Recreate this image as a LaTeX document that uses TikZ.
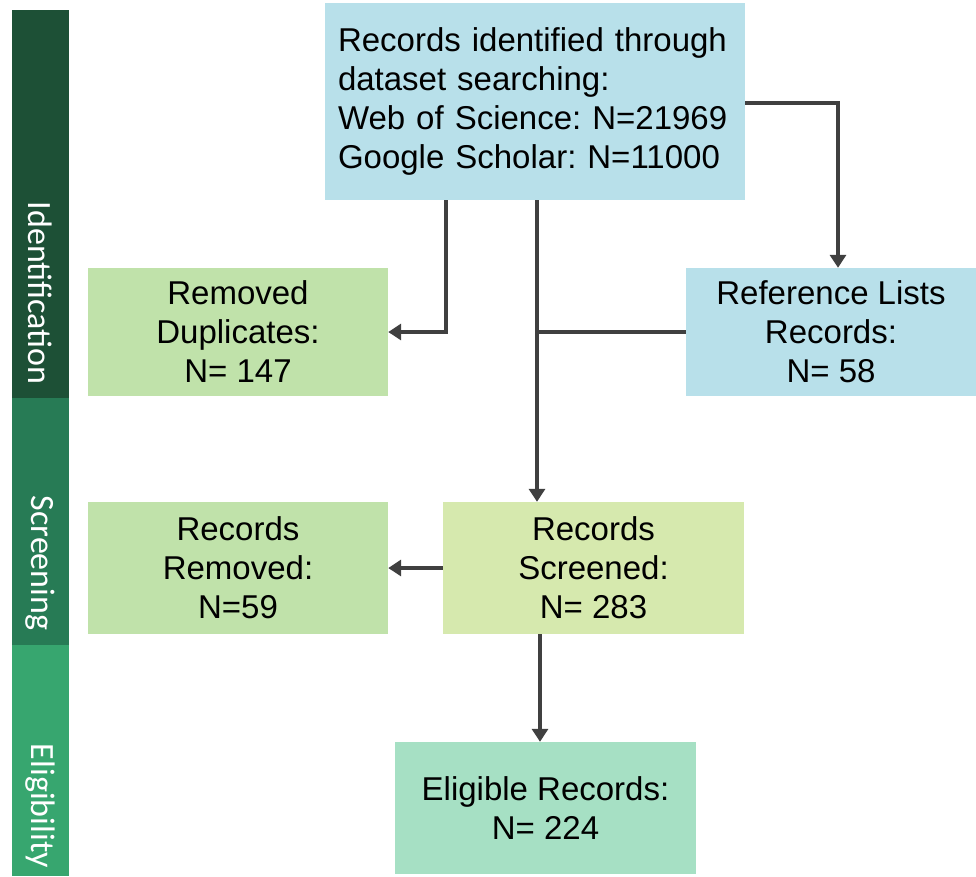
\documentclass[tikz,border=0pt]{standalone}
\usepackage{fontspec}
\setmainfont{Liberation Sans}
\newfontfamily\sidefont{Carlito}
\usetikzlibrary{arrows.meta}

\definecolor{identcol}{HTML}{1D5036}
\definecolor{screencol}{HTML}{277B55}
\definecolor{eligcol}{HTML}{37A66F}
\definecolor{bluebox}{HTML}{B8E0EA}
\definecolor{greenbox}{HTML}{C0E2AA}
\definecolor{limebox}{HTML}{D6E9AE}
\definecolor{mintbox}{HTML}{A6E0C4}
\definecolor{arrowcol}{HTML}{404040}

\tikzset{
  stagebox/.style={draw=none, minimum width=300pt, minimum height=130pt,
    align=center, inner sep=0pt, font=\frenchspacing\fontsize{33}{39}\selectfont},
  stagelabel/.style={rotate=-90, text=white, font=\sidefont\fontsize{34}{40}\selectfont},
  flow/.style={draw=arrowcol, line width=4pt},
  flowarrow/.style={flow, -{Triangle[length=13pt,width=16pt]}}
}

\begin{document}
\begin{tikzpicture}[x=1pt, y=-1pt]
  \useasboundingbox (0,0) rectangle (976,876);

  % phase bar on the left
  \fill[identcol] (12,10) rectangle (69,398);
  \fill[screencol] (12,398) rectangle (69,645);
  \fill[eligcol] (12,645) rectangle (69,876);
  \node[stagelabel] (identlabel) at (40.5,293) {Identification};
  \node[stagelabel] (screenlabel) at (40.5,563) {Screening};
  \node[stagelabel] (eliglabel) at (40.5,806) {Eligibility};

  % boxes
  \node[stagebox, fill=bluebox, minimum width=420pt, minimum height=197pt,
    text width=394pt, inner xsep=13pt, align=left] (search) at (535,101.5)
    {Records identified through\\dataset searching:\\Web of Science: N=21969\\Google Scholar: N=11000};
  \node[stagebox, fill=greenbox, minimum height=128pt] (dup) at (238,332)
    {Removed\\Duplicates:\\N= 147};
  \node[stagebox, fill=bluebox, minimum width=290pt, minimum height=128pt] (reflist) at (831,332)
    {Reference Lists\\Records:\\N= 58};
  \node[stagebox, fill=greenbox, minimum height=132pt] (removed) at (238,568)
    {Records\\Removed:\\N=59};
  \node[stagebox, fill=limebox, minimum width=301pt, minimum height=132pt] (screened) at (593.5,568)
    {Records\\Screened:\\N= 283};
  \node[stagebox, fill=mintbox, minimum width=301pt, minimum height=132pt] (eligible) at (545.5,808)
    {Eligible Records:\\N= 224};

  % connectors
  \coordinate (dupsplit) at (446,332);
  \coordinate (merge) at (537,332);
  \draw[flowarrow] (search.south -| dupsplit) |- (dup.east);
  \draw[flowarrow] (search.south -| merge) -- (screened.north -| merge);
  \draw[flow] (reflist.west) -- (merge);
  \draw[flowarrow] ([yshift=-1pt]search.east) -| ([xshift=7pt]reflist.north);
  \draw[flowarrow] (screened.west) -- (removed.east);
  \draw[flowarrow] (screened.south -| 540,0) -- (eligible.north -| 540,0);
\end{tikzpicture}
\end{document}
